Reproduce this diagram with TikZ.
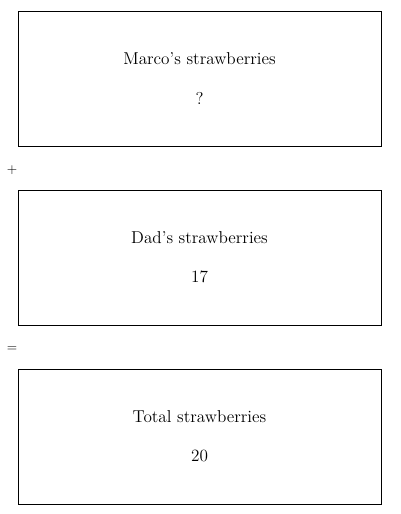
\documentclass[tikz,border=0pt]{standalone}
\usepackage{tikz}

\tikzset{
  partbox/.style={draw, minimum width=272.25pt, minimum height=101.25pt,
    align=center, font=\fontsize{12.9}{15}\selectfont, inner sep=0pt},
  opsign/.style={font=\sffamily}
}

\begin{document}
\begin{tikzpicture}[x=0.75pt,y=-0.75pt]
      \useasboundingbox (0,0) rectangle (400,514);
      % Marco
      \node[partbox] (marco) at (199.5,78.5) {Marco's strawberries\\[14.5pt]?};
      \node[opsign] (plus) at (12,170) {+};
      % Dad
      \node[partbox] (dad) at (199.5,257.5) {Dad's strawberries\\[14.5pt]17};
      \node[opsign] (equals) at (12,349) {=};
      % Total
      \node[partbox] (total) at (199.5,436.5) {Total strawberries\\[14.5pt]20};
    \end{tikzpicture}
\end{document}
